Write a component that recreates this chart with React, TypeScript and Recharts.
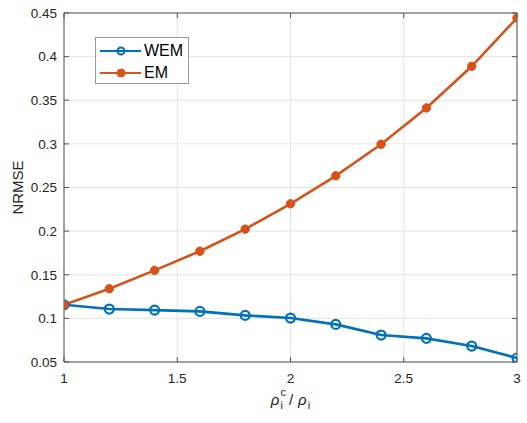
import React from "react";
import { LineChart, Line, XAxis, YAxis, CartesianGrid, Legend } from "recharts";

const xValues = [1, 1.2, 1.4, 1.6, 1.8, 2, 2.2, 2.4, 2.6, 2.8, 3];
const wemValues = [0.1156, 0.1107, 0.1095, 0.108, 0.1034, 0.1004, 0.0931, 0.0809, 0.0771, 0.0683, 0.0546];
const emValues = [0.1156, 0.134, 0.155, 0.177, 0.2023, 0.2313, 0.2634, 0.2996, 0.3412, 0.3889, 0.4443];
const xTicks = [1, 1.5, 2, 2.5, 3];
const yTicks = [0.05, 0.1, 0.15, 0.2, 0.25, 0.3, 0.35, 0.4, 0.45];
const seriesNames = ["WEM", "EM"];

const data = xValues.map((x, i) => ({ x, wem: wemValues[i], em: emValues[i] }));

const BLUE = "#0072BD";
const ORANGE = "#D95319";
const AXIS = "#555555";
const TEXT = "#262626";
const FONT = "'Liberation Sans', Arial, Helvetica, sans-serif";
const TICK_LEN = 5;

const fmt = (v: number) => String(Number(v.toFixed(2)));

const BottomTick = (props: any) => {
  const { x, y, payload } = props;
  return (
    <g>
      <line x1={x} y1={y} x2={x} y2={y - TICK_LEN} stroke={AXIS} strokeWidth={1} />
      <text x={x} y={y + 21} textAnchor="middle" fontSize={13.5} fill={TEXT} fontFamily={FONT}>
        {fmt(payload.value)}
      </text>
    </g>
  );
};

const TopTick = (props: any) => {
  const { x, y } = props;
  return <line x1={x} y1={y} x2={x} y2={y + TICK_LEN} stroke={AXIS} strokeWidth={1} />;
};

const LeftTick = (props: any) => {
  const { x, y, payload } = props;
  return (
    <g>
      <line x1={x} y1={y} x2={x + TICK_LEN} y2={y} stroke={AXIS} strokeWidth={1} />
      <text x={x - 7} y={y} dy="0.36em" textAnchor="end" fontSize={13.5} fill={TEXT} fontFamily={FONT}>
        {fmt(payload.value)}
      </text>
    </g>
  );
};

const RightTick = (props: any) => {
  const { x, y } = props;
  return <line x1={x} y1={y} x2={x - TICK_LEN} y2={y} stroke={AXIS} strokeWidth={1} />;
};

const XLabel = (props: any) => {
  const vb = props.viewBox || {};
  const cx = vb.x + vb.width / 2;
  const by = vb.y + 43;
  return (
    <text x={cx} y={by} textAnchor="middle" fontSize={15} fill={TEXT} fontFamily={FONT}>
      <tspan fontStyle="italic">ρ</tspan>
      <tspan fontSize={11} dx={1} dy={-9}>c</tspan>
      <tspan fontSize={11} dx={-5.5} dy={13}>i</tspan>
      <tspan dx={6} dy={-4}>/</tspan>
      <tspan fontStyle="italic" dx={5}>ρ</tspan>
      <tspan fontSize={11} dx={1} dy={4}>i</tspan>
    </text>
  );
};

const YLabel = (props: any) => {
  const vb = props.viewBox || {};
  const cy = vb.y + vb.height / 2;
  const cx = 17;
  return (
    <text
      x={cx}
      y={cy}
      textAnchor="middle"
      dominantBaseline="central"
      fontSize={15}
      fill={TEXT}
      fontFamily={FONT}
      transform={`rotate(-90 ${cx} ${cy})`}
    >
      NRMSE
    </text>
  );
};

const LegendContent = () => (
  <div
    style={{
      position: "absolute",
      left: 95,
      top: 37,
      width: 92,
      height: 45,
      border: "1px solid #9a9a9a",
      background: "#fff",
      boxSizing: "content-box",
      fontFamily: FONT,
      fontSize: 16,
      color: "#000",
    }}
  >
    {seriesNames.map((name, i) => (
      <div
        key={name}
        style={{ position: "absolute", left: 0, top: i === 0 ? 2 : 24, height: 22, display: "flex", alignItems: "center" }}
      >
        <svg width={48} height={22} style={{ display: "block" }}>
          <line x1={4} y1={11} x2={45} y2={11} stroke={i === 0 ? BLUE : ORANGE} strokeWidth={2.2} />
          {i === 0 ? (
            <circle cx={25} cy={11} r={3.5} fill="none" stroke={BLUE} strokeWidth={2} />
          ) : (
            <circle cx={25} cy={11} r={4} fill={ORANGE} stroke={ORANGE} strokeWidth={1} />
          )}
        </svg>
        <span style={{ lineHeight: "22px" }}>{name}</span>
      </div>
    ))}
  </div>
);

export default function App() {
  return (
    <div style={{ position: "absolute", left: 0, top: 0, width: 527, height: 423, background: "#fff" }}>
      <LineChart width={527} height={423} data={data} margin={{ top: 0, right: 0, bottom: 0, left: 0 }}>
        <CartesianGrid
          xAxisId="b"
          yAxisId="l"
          stroke="#e4e4e4"
          strokeWidth={1}
          horizontalValues={yTicks}
          verticalValues={xTicks}
        />
        <XAxis
          xAxisId="b"
          dataKey="x"
          type="number"
          domain={[1, 3]}
          ticks={xTicks}
          orientation="bottom"
          height={61}
          tickSize={0}
          tickMargin={0}
          tickLine={false}
          axisLine={{ stroke: AXIS }}
          tick={<BottomTick />}
          interval={0}
          allowDataOverflow
          label={<XLabel />}
        />
        <XAxis
          xAxisId="t"
          dataKey="x"
          type="number"
          domain={[1, 3]}
          ticks={xTicks}
          orientation="top"
          height={13}
          tickSize={0}
          tickMargin={0}
          tickLine={false}
          axisLine={{ stroke: AXIS }}
          tick={<TopTick />}
          interval={0}
          allowDataOverflow
        />
        <YAxis
          yAxisId="l"
          type="number"
          domain={[0.05, 0.45]}
          ticks={yTicks}
          orientation="left"
          width={64}
          tickSize={0}
          tickMargin={0}
          tickLine={false}
          axisLine={{ stroke: AXIS }}
          tick={<LeftTick />}
          interval={0}
          allowDataOverflow
          label={<YLabel />}
        />
        <YAxis
          yAxisId="r"
          type="number"
          domain={[0.05, 0.45]}
          ticks={yTicks}
          orientation="right"
          width={10}
          tickSize={0}
          tickMargin={0}
          tickLine={false}
          axisLine={{ stroke: AXIS }}
          tick={<RightTick />}
          interval={0}
          allowDataOverflow
        />
        <Legend content={<LegendContent />} wrapperStyle={{ position: "absolute", left: 0, top: 0, width: 0, height: 0 }} />
        <Line
          xAxisId="b"
          yAxisId="l"
          dataKey="wem"
          name="WEM"
          stroke={BLUE}
          strokeWidth={2.6}
          dot={{ r: 4.5, fill: "none", stroke: BLUE, strokeWidth: 2.2 }}
          activeDot={false}
          isAnimationActive={false}
        />
        <Line
          xAxisId="b"
          yAxisId="l"
          dataKey="em"
          name="EM"
          stroke={ORANGE}
          strokeWidth={2.6}
          dot={{ r: 4.2, fill: ORANGE, stroke: ORANGE, strokeWidth: 1 }}
          activeDot={false}
          isAnimationActive={false}
        />
      </LineChart>
    </div>
  );
}
